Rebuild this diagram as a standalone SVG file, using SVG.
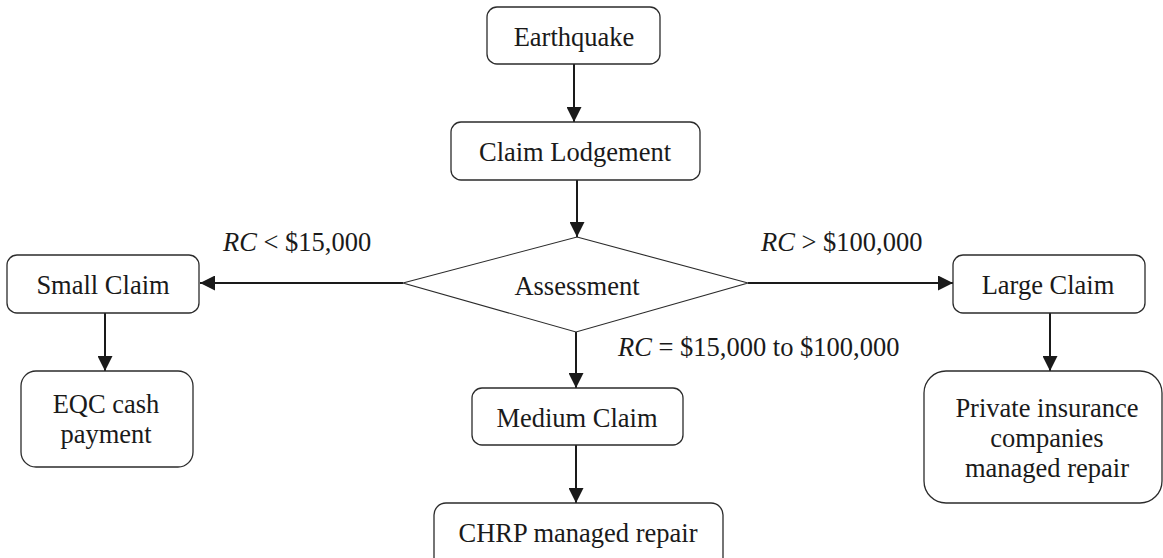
<svg xmlns="http://www.w3.org/2000/svg" width="1163" height="558" viewBox="0 0 1163 558">
<style>
.box{fill:#fff;stroke:#2b2b2b;stroke-width:1.3}
.dia{fill:#fff;stroke:#2b2b2b;stroke-width:1.1}
text{font-family:'Liberation Serif','DejaVu Serif',serif;font-size:26.5px;fill:#1a1a1a}
.t{text-anchor:middle}
.c{stroke:#1a1a1a;stroke-width:2;fill:none;marker-end:url(#ah)}
</style>
<defs>
<marker id="ah" markerUnits="userSpaceOnUse" markerWidth="15" markerHeight="15" refX="15" refY="7.5" orient="auto">
<path d="M0,0 L15,7.5 L0,15 Z" fill="#1a1a1a"/>
</marker>
</defs>
<rect width="1163" height="558" fill="#fff"/>
<g id="connectors">
<line class="c" x1="574" y1="64" x2="574" y2="122"/>
<line class="c" x1="577" y1="180" x2="577" y2="237"/>
<line class="c" x1="403" y1="283" x2="200" y2="283"/>
<line class="c" x1="748" y1="283" x2="953" y2="283"/>
<line class="c" x1="576" y1="332" x2="576" y2="388"/>
<line class="c" x1="105" y1="313" x2="105" y2="371"/>
<line class="c" x1="1050" y1="313" x2="1050" y2="371"/>
<line class="c" x1="576" y1="445" x2="576" y2="503"/>
</g>
<g id="labels">
<text font-family="Liberation Serif, serif" x="223" y="251"><tspan font-style="italic">RC</tspan> &lt; $15,000</text>
<text font-family="Liberation Serif, serif" x="761" y="251"><tspan font-style="italic">RC</tspan> &gt; $100,000</text>
<text font-family="Liberation Serif, serif" x="618" y="356"><tspan font-style="italic">RC</tspan> = $15,000 to $100,000</text>
</g>
<g id="earthquake">
<rect class="box" x="487" y="7" width="173" height="57" rx="10"/>
<text class="t" x="574" y="46">Earthquake</text>
</g>
<g id="claim-lodgement">
<rect class="box" x="451" y="122" width="249" height="58" rx="10"/>
<text class="t" x="575" y="161">Claim Lodgement</text>
</g>
<g id="assessment">
<polygon class="dia" points="577,237 748,283 576,332 403,283"/>
<text class="t" x="577" y="295">Assessment</text>
</g>
<g id="small-claim">
<rect class="box" x="7" y="255" width="192" height="58" rx="10"/>
<text class="t" x="103" y="294">Small Claim</text>
</g>
<g id="large-claim">
<rect class="box" x="953" y="255" width="192" height="58" rx="10"/>
<text class="t" x="1048" y="294">Large Claim</text>
</g>
<g id="medium-claim">
<rect class="box" x="472" y="388" width="211" height="57" rx="10"/>
<text class="t" x="577" y="427">Medium Claim</text>
</g>
<g id="eqc">
<rect class="box" x="21" y="371" width="172" height="96" rx="15"/>
<text class="t" x="106" y="413">EQC cash</text>
<text class="t" x="106" y="443">payment</text>
</g>
<g id="private">
<rect class="box" x="924" y="371" width="238" height="132" rx="22"/>
<text class="t" x="1047" y="417">Private insurance</text>
<text class="t" x="1047" y="447">companies</text>
<text class="t" x="1047" y="477">managed repair</text>
</g>
<g id="chrp">
<rect class="box" x="434" y="503" width="289" height="70" rx="12"/>
<text class="t" x="578" y="542">CHRP managed repair</text>
</g>
</svg>
